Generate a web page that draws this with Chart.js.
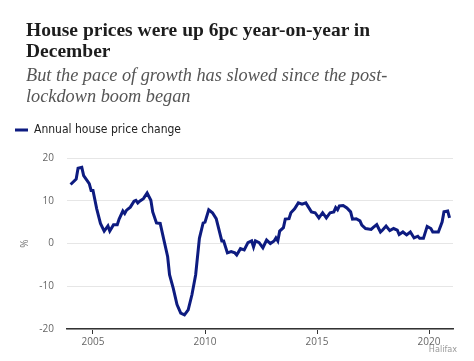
<!DOCTYPE html>
<html>
<head>
<meta charset="utf-8">
<script src="https://cdn.jsdelivr.net/npm/chart.js@4/dist/chart.umd.min.js"></script>
<style>
  html, body { margin: 0; padding: 0; background: #fff; }
  #wrap { position: relative; width: 474px; height: 361px; overflow: hidden; }
  #myChart { position: absolute; left: 0; top: 0; }
  .headline { position: absolute; left: 26px; top: 19px; width: 440px;
    font: bold 19.5px "Liberation Serif", serif; line-height: 21px; color: #1d1d1d; }
  .standfirst { position: absolute; left: 26px; top: 65px; width: 440px;
    font: italic 18.3px "Liberation Serif", serif; line-height: 21px; color: #555; }
  .source { position: absolute; right: 17px; top: 344px;
    font: 9px "Liberation Sans Narrow", "DejaVu Sans Condensed", sans-serif; color: #999; }
</style>
</head>
<body>
<div id="wrap">
  <canvas id="myChart" width="474" height="361"></canvas>
  <div class="headline">House prices were up 6pc year-on-year in<br>December</div>
  <div class="standfirst">But the pace of growth has slowed since the post-<br>lockdown boom began</div>
  <div class="source">Halifax</div>
</div>
<script>
var seriesName = "Annual house price change";

var months = [
  "2004-01","2004-04","2004-05","2004-07","2004-08","2004-11","2004-12",
  "2005-01","2005-03","2005-05","2005-07","2005-09","2005-10","2005-12",
  "2006-02","2006-03","2006-05","2006-06","2006-07","2006-09","2006-11","2006-12",
  "2007-01","2007-02","2007-04","2007-06","2007-08","2007-09","2007-11",
  "2008-01","2008-03","2008-05","2008-06","2008-08","2008-10","2008-12",
  "2009-02","2009-04","2009-06","2009-08","2009-10","2009-12",
  "2010-01","2010-03","2010-05","2010-07","2010-10","2010-11",
  "2011-01","2011-03","2011-05","2011-06","2011-08","2011-10","2011-12",
  "2012-02","2012-03","2012-04","2012-06","2012-08","2012-10","2012-12",
  "2013-02","2013-03","2013-04","2013-05","2013-07","2013-08","2013-10","2013-11",
  "2014-01","2014-03","2014-05","2014-07","2014-08","2014-10","2014-12",
  "2015-02","2015-04","2015-06","2015-08","2015-10","2015-11","2015-12",
  "2016-01","2016-03","2016-05","2016-07","2016-08","2016-10","2016-12",
  "2017-01","2017-03","2017-06","2017-07","2017-09","2017-11","2017-12",
  "2018-02","2018-04","2018-06","2018-08","2018-09","2018-11",
  "2019-01","2019-03","2019-05","2019-07","2019-08","2019-10","2019-12",
  "2020-02","2020-03","2020-05","2020-06","2020-08","2020-09","2020-11","2020-12"
];

var changes = [
  13.8, 15.1, 17.6, 17.8, 15.9, 14.0, 12.4,
  12.4, 8.1, 4.7, 2.9, 4.1, 2.9, 4.4,
  4.4, 5.7, 7.6, 7.0, 7.8, 8.5, 9.9, 10.1,
  9.5, 9.9, 10.5, 11.8, 10.1, 7.4, 4.8,
  4.7, 0.8, -3.1, -7.3, -10.5, -14.3, -16.3,
  -16.7, -15.5, -12.0, -7.3, 1.2, 4.8,
  5.0, 7.9, 7.2, 5.8, 0.6, 0.6,
  -2.2, -1.9, -2.2, -2.7, -1.2, -1.5, 0.2,
  0.6, -0.8, 0.6, 0.2, -1.0, 0.8, 0.0,
  0.6, 1.3, 0.6, 2.9, 3.7, 5.7, 5.8, 7.2,
  8.1, 9.5, 9.2, 9.5, 8.8, 7.4, 7.2,
  6.0, 7.2, 6.0, 7.2, 7.4, 8.4, 7.9,
  8.8, 8.9, 8.3, 7.4, 5.7, 5.8, 5.3,
  4.3, 3.5, 3.3, 3.7, 4.4, 2.7, 3.1,
  4.1, 3.0, 3.5, 3.1, 2.1, 2.7,
  2.0, 2.7, 1.3, 1.7, 1.2, 1.2, 4.0,
  3.5, 2.7, 2.7, 2.7, 5.0, 7.4, 7.6, 6.0
];

var yearTicks = [2005, 2010, 2015, 2020];
var valueTicks = [-20, -10, 0, 10, 20];

function monthToYear(s){
    var parts = s.split("-");
    return Number(parts[0]) + (Number(parts[1]) - 1) / 12;
}

var points = [];
for (var i = 0; i < months.length; i++){
    points.push({x: monthToYear(months[i]), y: changes[i]});
}

// give the legend some extra room below it
var legendGap = {
    id: 'legendGap',
    beforeInit: function(chart){
        var fit = chart.legend.fit;
        chart.legend.fit = function(){
            fit.bind(chart.legend)();
            this.height += 12;
        };
    }
};

var tickFont = {family: "'Open Sans', 'DejaVu Sans', sans-serif", size: 10};

new Chart(document.getElementById("myChart"), {
    type: 'line',
    data: {
        datasets: [{
            label: seriesName,
            data: points,
            borderColor: '#0d1b80',
            backgroundColor: '#0d1b80',
            borderWidth: 3,
            pointRadius: 0,
            tension: 0
        }]
    },
    options: {
        responsive: false,
        animation: false,
        layout: {
            padding: {top: 114, left: 5, right: 21, bottom: 11}
        },
        plugins: {
            legend: {
                position: 'top',
                align: 'start',
                labels: {
                    usePointStyle: true,
                    pointStyle: 'line',
                    pointStyleWidth: 13,
                    padding: 10,
                    color: '#222',
                    font: {family: "'Liberation Sans Narrow', 'DejaVu Sans Condensed', sans-serif", size: 12}
                }
            },
            tooltip: {enabled: false}
        },
        scales: {
            x: {
                type: 'linear',
                min: 2003.84,
                max: 2021.07,
                afterBuildTicks: function(scale){
                    scale.ticks = yearTicks.map(function(v){ return {value: v}; });
                },
                grid: {
                    drawOnChartArea: false,
                    drawTicks: true,
                    tickLength: 5,
                    color: '#333'
                },
                border: {display: true, color: '#333', width: 1.5},
                ticks: {
                    color: '#666',
                    font: tickFont,
                    padding: 2,
                    maxRotation: 0,
                    callback: function(v){ return String(v); }
                }
            },
            y: {
                min: -20,
                max: 20,
                afterBuildTicks: function(scale){
                    scale.ticks = valueTicks.map(function(v){ return {value: v}; });
                },
                afterFit: function(scale){
                    scale.width = 62;
                },
                grid: {
                    color: '#e6e6e6',
                    lineWidth: 1,
                    drawTicks: false
                },
                border: {display: false},
                ticks: {
                    color: '#666',
                    font: tickFont,
                    padding: 13
                },
                title: {
                    display: true,
                    text: '%',
                    color: '#777',
                    font: {family: "'Open Sans', 'DejaVu Sans', sans-serif", size: 10},
                    padding: {top: 14, bottom: 0}
                }
            }
        }
    },
    plugins: [legendGap]
});
</script>
</body>
</html>
